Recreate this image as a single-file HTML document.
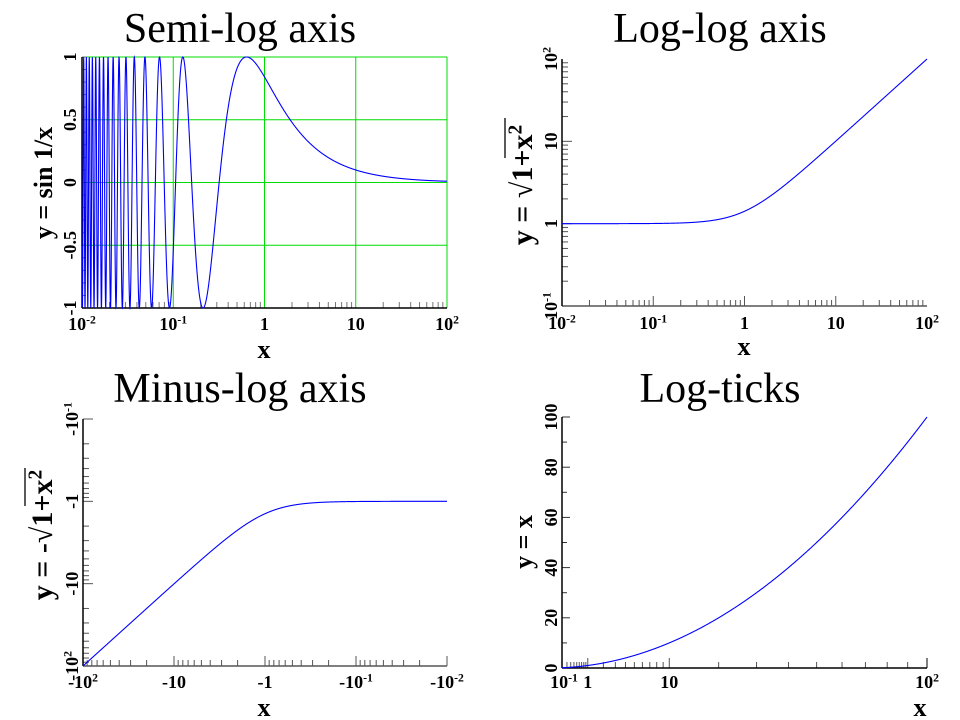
<!DOCTYPE html>
<html><head><meta charset="utf-8"><style>
html,body{margin:0;padding:0;background:#fff;}
svg{display:block;font-family:"Liberation Serif",serif;}
</style></head><body>
<svg id="s" width="960" height="720" viewBox="0 0 960 720"></svg>
<script>
// Data arrays
const p1Title = "Semi-log axis", p2Title = "Log-log axis", p3Title = "Minus-log axis", p4Title = "Log-ticks";
const logDecadesA = [-2, -1, 0, 1, 2];
const p1YTicks = [-1, -0.5, 0, 0.5, 1];
const p1YLabels = ["-1", "-0.5", "0", "0.5", "1"];
const p4YTicks = [0, 20, 40, 60, 80, 100];
const p4XTicks = [0.1, 1, 10, 100];
const sampleCount = 3000;
const xMin = 0.01, xMax = 100;
const xs = [];
for (let i = 0; i <= sampleCount; i++) xs.push(Math.pow(10, Math.log10(xMin) + i * (Math.log10(xMax) - Math.log10(xMin)) / sampleCount));
const ySin = xs.map(x => Math.sin(1 / x));
const ySqrt = xs.map(x => Math.sqrt(1 + x * x));
const xs4 = xs.filter(x => x >= 0.1);
const yLin = xs4.slice();

const S = document.getElementById('s');
const NS = "http://www.w3.org/2000/svg";
function mk(tag, attrs, parent) {
  const e = document.createElementNS(NS, tag);
  for (const k in attrs) e.setAttribute(k, attrs[k]);
  (parent || S).appendChild(e);
  return e;
}
function text(x, y, str, size, anchor, rot, name, sup, weight) {
  const t = mk('text', {x: x, y: y, 'font-size': size, 'text-anchor': anchor || 'middle', fill: '#000', 'font-weight': weight || 'normal'});
  if (rot) t.setAttribute('transform', `rotate(-90 ${x} ${y})`);
  
  
  t.appendChild(document.createTextNode(str));
  if (sup) {
    const ts = mk('tspan', {'font-size': size * 0.65, dy: -size * 0.35}, t);
    ts.textContent = sup;
  }
  return t;
}
function decLabel(d, neg) {
  if (d === 0) return [neg ? "-1" : "1", null];
  if (d === 1) return [neg ? "-10" : "10", null];
  return [neg ? "-10" : "10", String(d)];
}
function line(x1, y1, x2, y2, stroke, w, name) {
  const l = mk('line', {x1, y1, x2, y2, stroke, 'stroke-width': w});
  
  
  return l;
}
function path(pts, name) {
  let d = "";
  pts.forEach((p, i) => d += (i ? "L" : "M") + p[0].toFixed(2) + " " + p[1].toFixed(2));
  const e = mk('path', {d, fill: 'none', stroke: '#0000ff', 'stroke-width': 1.1});
  
  
  return e;
}
function logX(L, R, d0, d1) { return v => L + (Math.log10(v) - d0) / (d1 - d0) * (R - L); }
const TF = 42, TK = 18, AX = 26;

// ---------- Panel 1 ----------
(function(){
  const L = 82, R = 447, T = 57, B = 308;
  const X = logX(L, R, -2, 2);
  const Y = v => B - (v + 1) / 2 * (B - T);
  text(240, 42, p1Title, TF, 'middle', false, 'title-semi-log');
  logDecadesA.forEach(d => { line(X(Math.pow(10, d)), T, X(Math.pow(10, d)), B, '#00dd00', 1, 'grid-x'); });
  p1YTicks.forEach(v => line(L, Y(v), R, Y(v), '#00dd00', 1, 'grid-y'));
  for (let d = -2; d < 2; d++) for (let m = 2; m < 10; m++) {
    const x = X(m * Math.pow(10, d));
    line(x, B, x, B - 6, '#777', 1, 'x-minor-tick');
  }
  for (let v = -1; v <= 1.001; v += 0.1) line(L, Y(v), L + 4, Y(v), '#777', 1, 'y-minor-tick');
  line(L, B, R, B, '#000', 1.5, 'x-axis');
  line(L, T, L, B, '#000', 1.5, 'y-axis');
  path(xs.map((x, i) => [X(x), Y(ySin[i])]), 'series-sin');
  logDecadesA.forEach(d => { const [s, sup] = decLabel(d); text(X(Math.pow(10, d)), 330, s, TK, 'middle', false, 'x-tick-label', sup, 'bold'); });
  p1YTicks.forEach((v, i) => text(76, Y(v), p1YLabels[i], TK, 'middle', true, 'y-tick-label', null, 'bold'));
  text(264, 358, 'x', AX, 'middle', false, 'x-axis-title', null, 'bold');
  text(52, 183, 'y = sin 1/x', AX, 'middle', true, 'y-axis-title', null, 'bold');
})();

// ---------- Panel 2 ----------
(function(){
  const L = 562, R = 927, T = 59, B = 306;
  const X = logX(L, R, -2, 2);
  const Y = v => B - (Math.log10(v) + 1) / 3 * (B - T);
  text(720, 42, p2Title, TF, 'middle', false, 'title-log-log');
  for (let d = -2; d < 2; d++) for (let m = 1; m < 10; m++) {
    const x = X(m * Math.pow(10, d));
    line(x, B, x, B - (m === 1 ? 10 : 6), '#555', 1, 'x-tick');
  }
  for (let d = -1; d < 2; d++) for (let m = 1; m < 10; m++) {
    const y = Y(m * Math.pow(10, d));
    line(L, y, L + (m === 1 ? 10 : 6), y, '#555', 1, 'y-tick');
  }
  line(L, B, R, B, '#555', 1.5, 'x-axis');
  line(L, T, L, B, '#000', 1.5, 'y-axis');
  path(xs.map((x, i) => [X(x), Y(ySqrt[i])]), 'series-sqrt');
  logDecadesA.forEach(d => { const [s, sup] = decLabel(d); text(X(Math.pow(10, d)), 329, s, TK, 'middle', false, 'x-tick-label', sup, 'bold'); });
  [-1, 0, 1, 2].forEach(d => { const [s, sup] = decLabel(d); text(557, Y(Math.pow(10, d)), s, TK, 'middle', true, 'y-tick-label', sup, 'bold'); });
  text(744, 355, 'x', AX, 'middle', false, 'x-axis-title', null, 'bold');
  text(532, 185, 'y = √1+x', 30, 'middle', true, 'y-axis-title', '2', 'bold');
  line(505, 158, 505, 118, '#000', 1.3, 'sqrt-vinculum');
})();

// ---------- Panel 3 ----------
(function(){
  const L = 83, R = 447, T = 419, B = 666;
  const X = v => L + (2 - Math.log10(-v)) / 4 * (R - L);
  const Y = v => T + (Math.log10(-v) + 1) / 3 * (B - T);
  text(240, 402, p3Title, TF, 'middle', false, 'title-minus-log');
  for (let d = -2; d < 2; d++) for (let m = 1; m < 10; m++) {
    const x = X(-m * Math.pow(10, d));
    line(x, B, x, B - (m === 1 ? 10 : 6), '#555', 1, 'x-tick');
  }
  for (let d = -1; d < 2; d++) for (let m = 1; m < 10; m++) {
    const y = Y(-m * Math.pow(10, d));
    line(L, y, L + (m === 1 ? 10 : 6), y, '#555', 1, 'y-tick');
  }
  line(L, B, R, B, '#555', 1.5, 'x-axis');
  line(L, T, L, B, '#000', 1.5, 'y-axis');
  path(xs.map((x, i) => [X(-x), Y(-ySqrt[i])]), 'series-neg-sqrt');
  logDecadesA.slice().reverse().forEach(d => { const [s, sup] = decLabel(d, true); text(X(-Math.pow(10, d)), 688, s, TK, 'middle', false, 'x-tick-label', sup, 'bold'); });
  [-1, 0, 1, 2].forEach(d => { const [s, sup] = decLabel(d, true); text(78, Y(-Math.pow(10, d)), s, TK, 'middle', true, 'y-tick-label', sup, 'bold'); });
  text(264, 716, 'x', AX, 'middle', false, 'x-axis-title', null, 'bold');
  text(52, 535, 'y = -√1+x', 30, 'middle', true, 'y-axis-title', '2', 'bold');
  line(25, 506, 25, 468, '#000', 1.3, 'sqrt-vinculum');
})();

// ---------- Panel 4 ----------
(function(){
  const L = 562, R = 927, T = 417, B = 668;
  const a = Math.sqrt(0.1), b = 10;
  const X = v => L + (Math.sqrt(v) - a) / (b - a) * (R - L);
  const Y = v => B - v / 100 * (B - T);
  text(720, 402, p4Title, TF, 'middle', false, 'title-log-ticks');
  for (let d = -1; d < 2; d++) for (let m = 1; m < 10; m++) {
    const x = X(m * Math.pow(10, d));
    line(x, B, x, B - (m === 1 ? 10 : 6), '#555', 1, 'x-tick');
  }
  line(X(100), B, X(100), B - 10, '#000', 1, 'x-tick');
  for (let v = 0; v <= 100; v += 10) line(L, Y(v), L + (v % 20 === 0 ? 8 : 5), Y(v), '#333', 1, 'y-tick');
  line(L, B, R, B, '#000', 1.5, 'x-axis');
  line(L, T, L, B, '#000', 1.5, 'y-axis');
  path(xs4.map((x, i) => [X(x), Y(yLin[i])]), 'series-linear');
  p4XTicks.forEach(v => {
    const d = Math.round(Math.log10(v)); const [s, sup] = decLabel(d);
    text(X(v) + (v === 0.1 ? 2 : 0), 688, s, TK, 'middle', false, 'x-tick-label', sup, 'bold');
  });
  p4YTicks.forEach(v => text(557, Y(v), String(v), TK, 'middle', true, 'y-tick-label', null, 'bold'));
  text(920, 716, 'x', AX, 'middle', false, 'x-axis-title', null, 'bold');
  text(532, 542, 'y = x', AX, 'middle', true, 'y-axis-title', null, 'bold');
})();
</script>
</body></html>
